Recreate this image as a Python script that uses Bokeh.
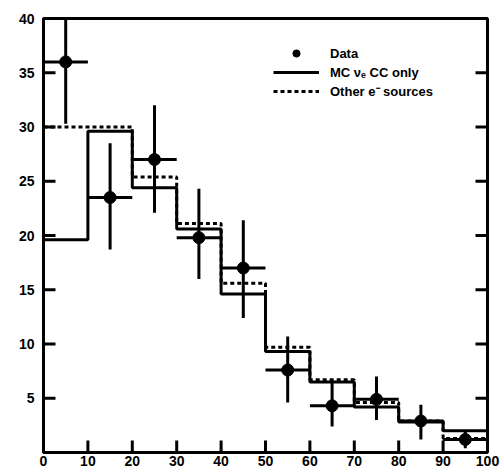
from bokeh.plotting import figure
from bokeh.models import LinearAxis, FixedTicker, Range1d, Legend, LegendItem, ColumnDataSource
from bokeh.embed import file_html
from bokeh.resources import INLINE

# ---- data ----
bin_edges = [0, 10, 20, 30, 40, 50, 60, 70, 80, 90, 100]
bin_centers = [5, 15, 25, 35, 45, 55, 65, 75, 85, 95]
data_y = [36.0, 23.5, 27.0, 19.8, 17.0, 7.6, 4.3, 4.9, 2.9, 1.2]
data_lo = [30.3, 18.7, 22.1, 16.0, 12.4, 4.6, 2.4, 3.0, 1.2, 0.4]
data_hi = [42.0, 28.5, 32.0, 24.3, 21.4, 10.7, 6.5, 7.0, 4.4, 2.0]
mc_nue_cc = [19.6, 29.6, 24.4, 20.6, 14.6, 9.3, 6.5, 4.2, 2.8, 2.0]
other_e = [30.0, 30.0, 25.4, 21.1, 15.6, 9.7, 6.7, 4.6, 2.9, 1.3]
x_ticks = [0, 10, 20, 30, 40, 50, 60, 70, 80, 90, 100]
y_ticks = [5, 10, 15, 20, 25, 30, 35, 40]
x_tick_marks = [10, 20, 30, 40, 50, 60, 70, 80, 90]
y_tick_marks = [5, 10, 15, 20, 25, 30, 35]

X_MIN, X_MAX, Y_MIN, Y_MAX = 0, 100, 0, 40
FONT = "Liberation Sans"
BORDER_L, BORDER_R, BORDER_T, BORDER_B = 43, 17, 18, 21
W, H = 504, 473
TICK_PX = 12

p = figure(width=W, height=H, output_backend="svg", toolbar_location=None,
           x_range=Range1d(X_MIN, X_MAX), y_range=Range1d(Y_MIN, Y_MAX),
           min_border_left=BORDER_L, min_border_right=BORDER_R,
           min_border_top=BORDER_T, min_border_bottom=BORDER_B,
           x_axis_location=None, y_axis_location=None)
p.xgrid.visible = False
p.ygrid.visible = False
p.outline_line_color = "black"
p.outline_line_width = 3
p.background_fill_color = "white"
p.border_fill_color = "white"

def style_axis(ax):
    ax.axis_line_width = 3
    ax.axis_line_color = "black"
    ax.major_tick_in = 0
    ax.major_tick_out = 0
    ax.major_tick_line_color = None
    ax.minor_tick_line_color = None
    ax.major_label_text_font = FONT
    ax.major_label_text_font_style = "bold"
    ax.major_label_text_font_size = "14px"
    ax.major_label_text_color = "black"

xb = LinearAxis(ticker=FixedTicker(ticks=x_ticks))
style_axis(xb)
xb.major_label_standoff = 3
p.add_layout(xb, "below")

yl = LinearAxis(ticker=FixedTicker(ticks=y_ticks))
style_axis(yl)
yl.major_label_standoff = 9
p.add_layout(yl, "left")

# inward tick marks (length converted from pixels to data units)
frame_w = W - BORDER_L - BORDER_R
frame_h = H - BORDER_T - BORDER_B
dx = TICK_PX * (X_MAX - X_MIN) / frame_w
dy = TICK_PX * (Y_MAX - Y_MIN) / frame_h
tick_src_l = ColumnDataSource(dict(x0=[X_MIN] * len(y_tick_marks), x1=[X_MIN + dx] * len(y_tick_marks),
                                   y=y_tick_marks))
tick_src_r = ColumnDataSource(dict(x0=[X_MAX] * len(y_tick_marks), x1=[X_MAX - dx] * len(y_tick_marks),
                                   y=y_tick_marks))
tick_src_b = ColumnDataSource(dict(x=x_tick_marks, y0=[Y_MIN] * len(x_tick_marks),
                                   y1=[Y_MIN + dy] * len(x_tick_marks)))
p.segment(x0="x0", y0="y", x1="x1", y1="y", source=tick_src_l, line_color="black", line_width=3)
p.segment(x0="x0", y0="y", x1="x1", y1="y", source=tick_src_r, line_color="black", line_width=3)
p.segment(x0="x", y0="y0", x1="x", y1="y1", source=tick_src_b, line_color="black", line_width=3)

# histograms
r_mc = p.step(x=bin_edges, y=mc_nue_cc + [mc_nue_cc[-1]], mode="after",
              line_color="black", line_width=3)
r_oth = p.step(x=bin_edges, y=other_e + [other_e[-1]], mode="after",
               line_color="black", line_width=3, line_dash="4 3")

# data with error bars
src = ColumnDataSource(dict(
    x=bin_centers, y=data_y, lo=data_lo, hi=data_hi,
    x0=bin_edges[:-1], x1=bin_edges[1:]))
p.segment(x0="x", y0="lo", x1="x", y1="hi", source=src, line_color="black", line_width=3)
p.segment(x0="x0", y0="y", x1="x1", y1="y", source=src, line_color="black", line_width=3)
r_data = p.scatter(x="x", y="y", source=src, size=12, marker="circle",
                   fill_color="black", line_color="black")

legend = Legend(items=[
    LegendItem(label="Data", renderers=[r_data]),
    LegendItem(label="MC \u03bd\u2091 CC only", renderers=[r_mc]),
    LegendItem(label="Other e\u207b sources", renderers=[r_oth]),
], location=(230, 352))
legend.background_fill_alpha = 0
legend.border_line_color = None
legend.padding = 0
legend.margin = 0
legend.spacing = 1
legend.glyph_width = 46
legend.glyph_height = 18
legend.label_height = 18
legend.label_standoff = 11
legend.label_text_font = FONT
legend.label_text_font_style = "bold"
legend.label_text_font_size = "13px"
legend.label_text_color = "black"
p.add_layout(legend)

open("out.html", "w").write(file_html(p, INLINE))
